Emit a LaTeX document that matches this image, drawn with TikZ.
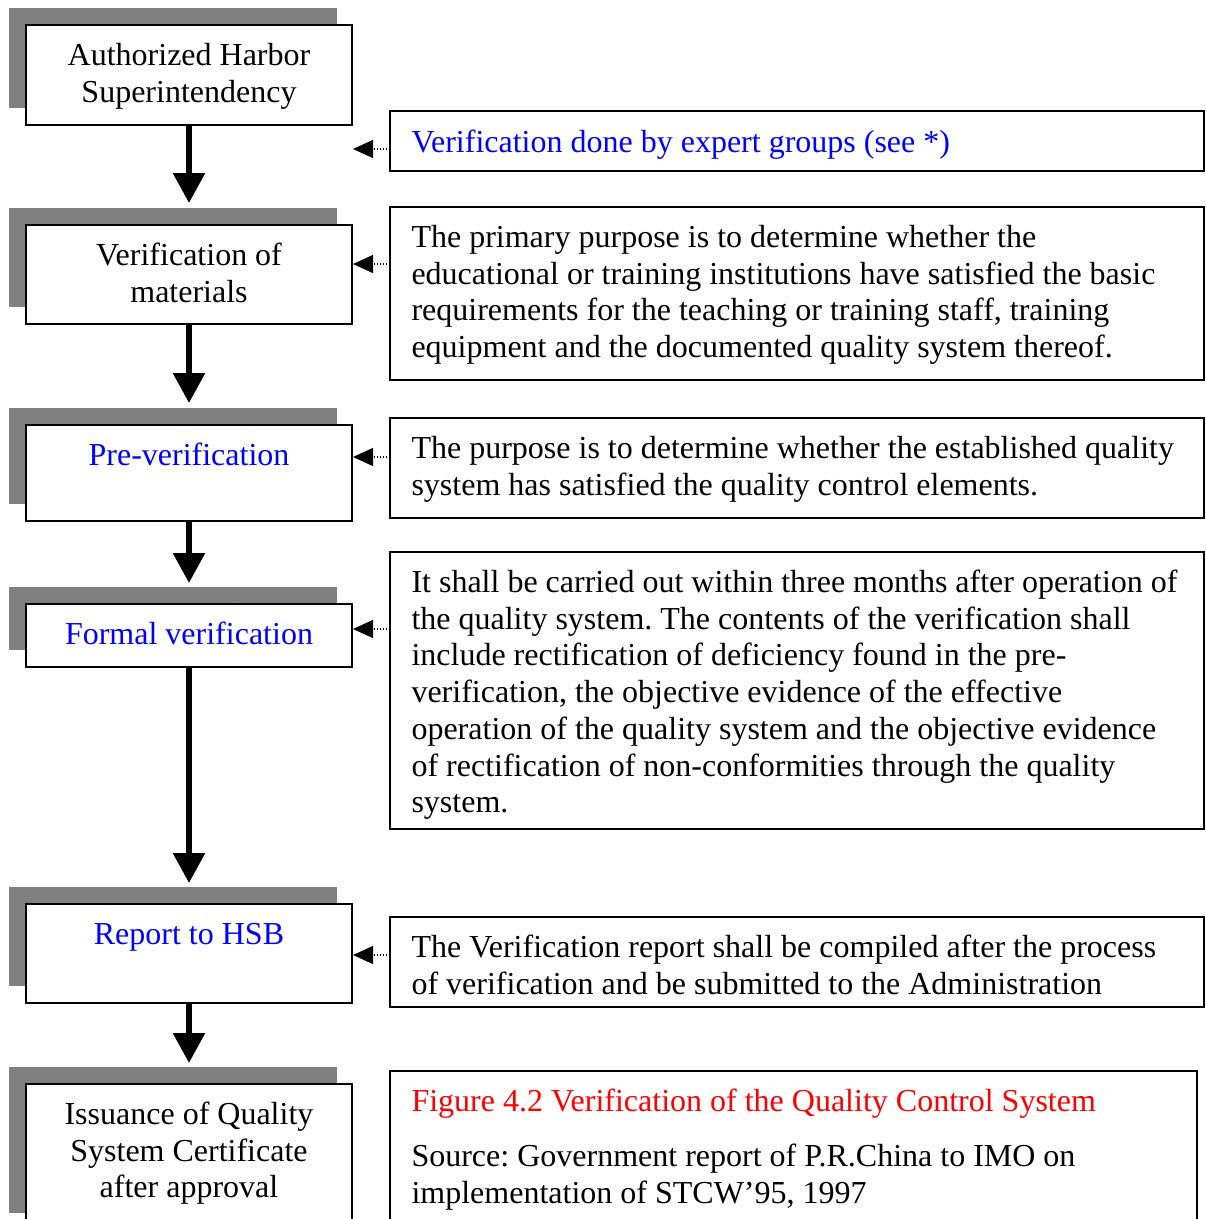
\documentclass[tikz,border=0pt]{standalone}
\usepackage{fontspec}
\setmainfont{Liberation Serif}
\usetikzlibrary{arrows.meta,backgrounds}
\definecolor{shadowgray}{RGB}{128,128,128}
\definecolor{txtblue}{RGB}{0,0,255}
\definecolor{txtred}{RGB}{255,0,0}
\newcommand\mystrut{\rule{0pt}{10pt}}
\frenchspacing
\begin{document}
\begin{tikzpicture}[x=0.375pt,y=-0.375pt,
  lbox/.style={draw, line width=0.6pt, fill=white, inner sep=0pt, outer sep=0pt,
     minimum width=122.25pt},
  rbox/.style={draw, line width=0.6pt, fill=white, inner sep=0pt, outer sep=0pt,
     minimum width=305.25pt},
  ltxt/.style={anchor=north, inner sep=0pt, align=center,
     font=\fontsize{12}{13.76}\selectfont},
  rtxt/.style={anchor=north west, inner sep=0pt, align=left,
     font=\fontsize{12}{13.76}\selectfont},
  flow/.style={line width=2.25pt, -{Triangle[length=11.25pt,width=11.6pt]}},
  dotarrow/.style={line width=0.4pt, dash pattern=on 0.4pt off 0.75pt,
     -{Triangle[length=7.5pt,width=6.75pt]}},
  shadow/.style={fill=shadowgray}
]
\useasboundingbox (0,0) rectangle (1205,1219);
\clip (0,0) rectangle (1205,1219);

% left boxes
\node[lbox, minimum height=37.5pt]   (b1) at (189,75) {};
\node[lbox, minimum height=37.125pt] (b2) at (189,274.5) {};
\node[lbox, minimum height=36pt]     (b3) at (189,473) {};
\node[lbox, minimum height=23.625pt] (b4) at (189,635.5) {};
\node[lbox, minimum height=37.125pt] (b5) at (189,953.5) {};
\node[lbox, minimum height=54.75pt]  (b6) at (189,1157) {};

% shadows
\begin{scope}[on background layer]
\foreach \b in {b1,b2,b3,b4,b5,b6}
  \fill[shadow] ([xshift=-6.4pt,yshift=6.2pt]\b.south west) rectangle ([xshift=-5.6pt,yshift=6.4pt]\b.north east);
\end{scope}

% left texts
\node[ltxt] (t1) at ([yshift=-5pt]b1.north) {\mystrut Authorized Harbor\\Superintendency};
\node[ltxt] (t2) at ([yshift=-5pt]b2.north) {\mystrut Verification of\\materials};
\node[ltxt, text=txtblue] (t3) at ([yshift=-5pt]b3.north) {\mystrut Pre-verification};
\node[ltxt, text=txtblue] (t4) at ([yshift=-5pt]b4.north) {\mystrut Formal verification};
\node[ltxt, text=txtblue] (t5) at ([yshift=-5pt]b5.north) {\mystrut Report to HSB};
\node[ltxt] (t6) at ([yshift=-5pt]b6.north) {\mystrut Issuance of Quality\\System Certificate\\after approval};

% flow arrows
\coordinate (e1) at (189,203);
\coordinate (e2) at (189,403);
\coordinate (e3) at (189,583);
\coordinate (e4) at (189,883);
\coordinate (e5) at (189,1063);
\draw[flow] (b1.south) -- (e1);
\draw[flow] (b2.south) -- (e2);
\draw[flow] (b3.south) -- (e3);
\draw[flow] (b4.south) -- (e4);
\draw[flow] (b5.south) -- (e5);

% right boxes
\node[rbox, minimum height=22.5pt]   (rA) at (797,141) {};
\node[rbox, minimum height=64.875pt] (rB) at (797,293.5) {};
\node[rbox, minimum height=37.5pt]   (rC) at (797,468) {};
\node[rbox, minimum height=103.875pt] (rD) at (797,690.5) {};
\node[rbox, minimum height=33.75pt]  (rE) at (797,962) {};
\node[draw, line width=0.6pt, fill=white, inner sep=0pt, outer sep=0pt,
      minimum width=302.625pt, minimum height=61.5pt] (rF) at (793.5,1153) {};

% right texts
\node[rtxt, text=txtblue] (sA) at ([xshift=7.875pt,yshift=-5.3pt]rA.north west)
  {\mystrut Verification done by expert groups (see *)};
\node[rtxt] (sB) at ([xshift=7.875pt,yshift=-5pt]rB.north west)
  {\mystrut The primary purpose is to determine whether the\\
   educational or training institutions have satisfied the basic\\
   requirements for the teaching or training staff, training\\
   equipment and the documented quality system thereof.};
\node[rtxt] (sC) at ([xshift=7.875pt,yshift=-5pt]rC.north west)
  {\mystrut The purpose is to determine whether the established quality\\
   system has satisfied the quality control elements.};
\node[rtxt] (sD) at ([xshift=7.875pt,yshift=-5pt]rD.north west)
  {\mystrut It shall be carried out within three months after operation of\\
   the quality system. The contents of the verification shall\\
   include rectification of deficiency found in the pre-\\
   verification, the objective evidence of the effective\\
   operation of the quality system and the objective evidence\\
   of rectification of non-conformities through the quality\\
   system.};
\node[rtxt] (sE) at ([xshift=7.875pt,yshift=-5pt]rE.north west)
  {\mystrut The Verification report shall be compiled after the process\\
   of verification and be submitted to the Administration};
\node[rtxt, text=txtred] (sF) at ([xshift=7.875pt,yshift=-5pt]rF.north west)
  {\mystrut Figure 4.2 Verification of the Quality Control System};
\node[rtxt] (sG) at ([yshift=-20.6pt]sF.north west)
  {\mystrut Source: Government report of P.R.China to IMO on\\
   implementation of STCW’95, 1997};

% dotted connectors
\coordinate (pA) at (353,149);
\coordinate (pB) at (353,264);
\coordinate (pC) at (353,457);
\coordinate (pD) at (353,629);
\coordinate (pE) at (353,955);
\draw[dotarrow] (rA.west |- pA) -- (pA);
\draw[dotarrow] (rB.west |- pB) -- (pB);
\draw[dotarrow] (rC.west |- pC) -- (pC);
\draw[dotarrow] (rD.west |- pD) -- (pD);
\draw[dotarrow] (rE.west |- pE) -- (pE);
\end{tikzpicture}
\end{document}
